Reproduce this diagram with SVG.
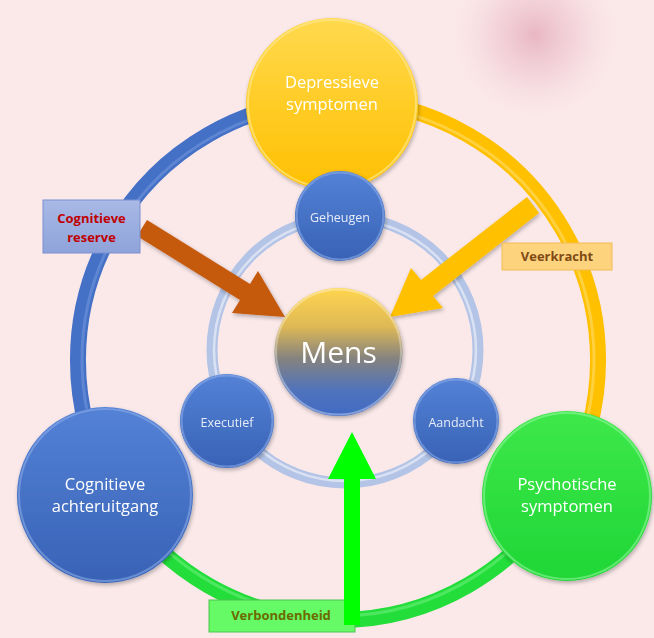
<svg xmlns="http://www.w3.org/2000/svg" width="654" height="638" viewBox="0 0 654 638">
<defs>
<radialGradient id="blob" cx="535" cy="35" r="95" gradientUnits="userSpaceOnUse">
<stop offset="0" stop-color="#e2a6b6" stop-opacity="0.75"/>
<stop offset="0.45" stop-color="#ecbfcb" stop-opacity="0.45"/>
<stop offset="1" stop-color="#fbe9ea" stop-opacity="0"/>
</radialGradient>
<linearGradient id="gBlue" x1="0" y1="0" x2="0" y2="1">
<stop offset="0" stop-color="#5482d6"/>
<stop offset="1" stop-color="#3862b6"/>
</linearGradient>
<linearGradient id="gYellow" x1="0" y1="0" x2="0" y2="1">
<stop offset="0" stop-color="#ffd94e"/>
<stop offset="1" stop-color="#ffc000"/>
</linearGradient>
<linearGradient id="gGreen" x1="0" y1="0" x2="0" y2="1">
<stop offset="0" stop-color="#3ee84a"/>
<stop offset="1" stop-color="#1fd636"/>
</linearGradient>
<linearGradient id="gMens" x1="0" y1="0" x2="0" y2="1">
<stop offset="0" stop-color="#ffd54f"/>
<stop offset="0.3" stop-color="#dfb955"/>
<stop offset="0.55" stop-color="#85837f"/>
<stop offset="0.8" stop-color="#5073bc"/>
<stop offset="1" stop-color="#3f6ac4"/>
</linearGradient>
<linearGradient id="gReserve" x1="0" y1="0" x2="0" y2="1">
<stop offset="0" stop-color="#a9b9e6"/>
<stop offset="1" stop-color="#8ea3da"/>
</linearGradient>
<filter id="sh" x="-20%" y="-20%" width="140%" height="140%">
<feGaussianBlur in="SourceAlpha" stdDeviation="2"/>
<feOffset dx="1" dy="2"/>
<feComponentTransfer><feFuncA type="linear" slope="0.3"/></feComponentTransfer>
<feMerge><feMergeNode/><feMergeNode in="SourceGraphic"/></feMerge>
</filter>
</defs>
<style>
.t{font-family:"Open Sans","Liberation Sans",sans-serif;fill:#ffffff;text-anchor:middle}
.big{font-size:16.5px}
.small{font-size:12.5px;fill:#e6ecf8}
.lab{font-family:"Open Sans","Liberation Sans",sans-serif;font-weight:bold;font-size:13px;text-anchor:middle}
.rim{fill:none;stroke-width:2}
</style>
<rect width="654" height="638" fill="#fbe9ea"/>
<rect width="654" height="638" fill="url(#blob)"/>
<g id="connectors">
<path d="M 338 100 A 260 260 0 0 0 112.8 490" fill="none" stroke="#4471c6" stroke-width="16"/>
<path d="M 338 104 A 256 256 0 0 0 116.3 488" fill="none" stroke="#6f95dc" stroke-width="3" opacity="0.6"/>
<path d="M 338 100 A 260 260 0 0 1 563.2 490" fill="none" stroke="#ffc000" stroke-width="16"/>
<path d="M 338 104 A 256 256 0 0 1 559.7 488" fill="none" stroke="#ffd95a" stroke-width="3" opacity="0.7"/>
<path d="M 563.2 490 A 260 260 0 0 1 112.8 490" fill="none" stroke="#22dd3a" stroke-width="16"/>
<path d="M 559.7 488 A 256 256 0 0 1 116.3 488" fill="none" stroke="#6af07a" stroke-width="3" opacity="0.6"/>
<circle cx="345" cy="350" r="133" fill="none" stroke="#b3c4e6" stroke-width="11"/>
<circle cx="345" cy="350" r="131" fill="none" stroke="#e2e9f6" stroke-width="2.5" opacity="0.8"/>
<polygon id="arrow-reserve" points="147,220 250,284 258,271 285,317 232,313 240,300 137,236" fill="#c55a11" filter="url(#sh)"/>
<polygon id="arrow-veerkracht" points="527,197 421,280 411,268 390,317 443,308 433,296 539,213" fill="#ffc000" filter="url(#sh)"/>
</g>
<g id="node-depressieve" filter="url(#sh)">
<circle cx="332" cy="104" r="86" fill="url(#gYellow)"/>
<circle cx="332" cy="104" r="84" class="rim" stroke="#ffe78a" opacity="0.7"/>
<text class="t big" x="332" y="88">Depressieve</text>
<text class="t big" x="332" y="110">symptomen</text>
</g>
<g id="node-cognitieve" filter="url(#sh)">
<circle cx="105" cy="495" r="88" fill="url(#gBlue)"/>
<circle cx="105" cy="495" r="86" class="rim" stroke="#8aaae6" opacity="0.6"/>
<text class="t big" x="105" y="490">Cognitieve</text>
<text class="t big" x="105" y="512">achteruitgang</text>
</g>
<g id="node-psychotische" filter="url(#sh)">
<circle cx="567" cy="496" r="85" fill="url(#gGreen)"/>
<circle cx="567" cy="496" r="83" class="rim" stroke="#8ff59a" opacity="0.6"/>
<text class="t big" x="567" y="490">Psychotische</text>
<text class="t big" x="567" y="512">symptomen</text>
</g>
<g id="node-geheugen" filter="url(#sh)">
<circle cx="340" cy="216" r="45" fill="url(#gBlue)"/>
<circle cx="340" cy="216" r="43.5" class="rim" stroke="#8aaae6" opacity="0.6"/>
<text class="t small" x="340" y="222">Geheugen</text>
</g>
<g id="node-executief" filter="url(#sh)">
<circle cx="227" cy="421" r="47" fill="url(#gBlue)"/>
<circle cx="227" cy="421" r="45.5" class="rim" stroke="#8aaae6" opacity="0.6"/>
<text class="t small" x="227" y="427">Executief</text>
</g>
<g id="node-aandacht" filter="url(#sh)">
<circle cx="456" cy="421" r="43" fill="url(#gBlue)"/>
<circle cx="456" cy="421" r="41.5" class="rim" stroke="#8aaae6" opacity="0.6"/>
<text class="t small" x="456" y="427">Aandacht</text>
</g>
<g id="node-mens" filter="url(#sh)">
<circle cx="338.5" cy="352" r="64" fill="url(#gMens)"/>
<circle cx="338.5" cy="352" r="62.5" class="rim" stroke="#ffffff" opacity="0.35"/>
<text class="t" x="338.5" y="363" font-size="30">Mens</text>
</g>
<g id="label-reserve">
<rect x="43" y="200" width="97" height="53" fill="url(#gReserve)" stroke="#7b90cf" stroke-width="1"/>
<text class="lab" x="91.5" y="223" fill="#c00000">Cognitieve</text>
<text class="lab" x="91.5" y="242" fill="#c00000">reserve</text>
</g>
<g id="label-veerkracht">
<rect x="502" y="243" width="110" height="27" fill="#fdd37e" stroke="#f2bb55" stroke-width="1"/>
<text class="lab" x="557" y="261" fill="#7f4a14">Veerkracht</text>
</g>
<g id="label-verbondenheid">
<rect x="209" y="600" width="146" height="32" fill="#66fb66" stroke="#4fc24f" stroke-width="1"/>
<text class="lab" x="281" y="620" fill="#6b6a00">Verbondenheid</text>
</g>
<g id="connector-verbondenheid">
<polygon points="344,625 344,479 328,479 352,432 376,479 360,479 360,625" fill="#00ff00"/>
</g>
</svg>
